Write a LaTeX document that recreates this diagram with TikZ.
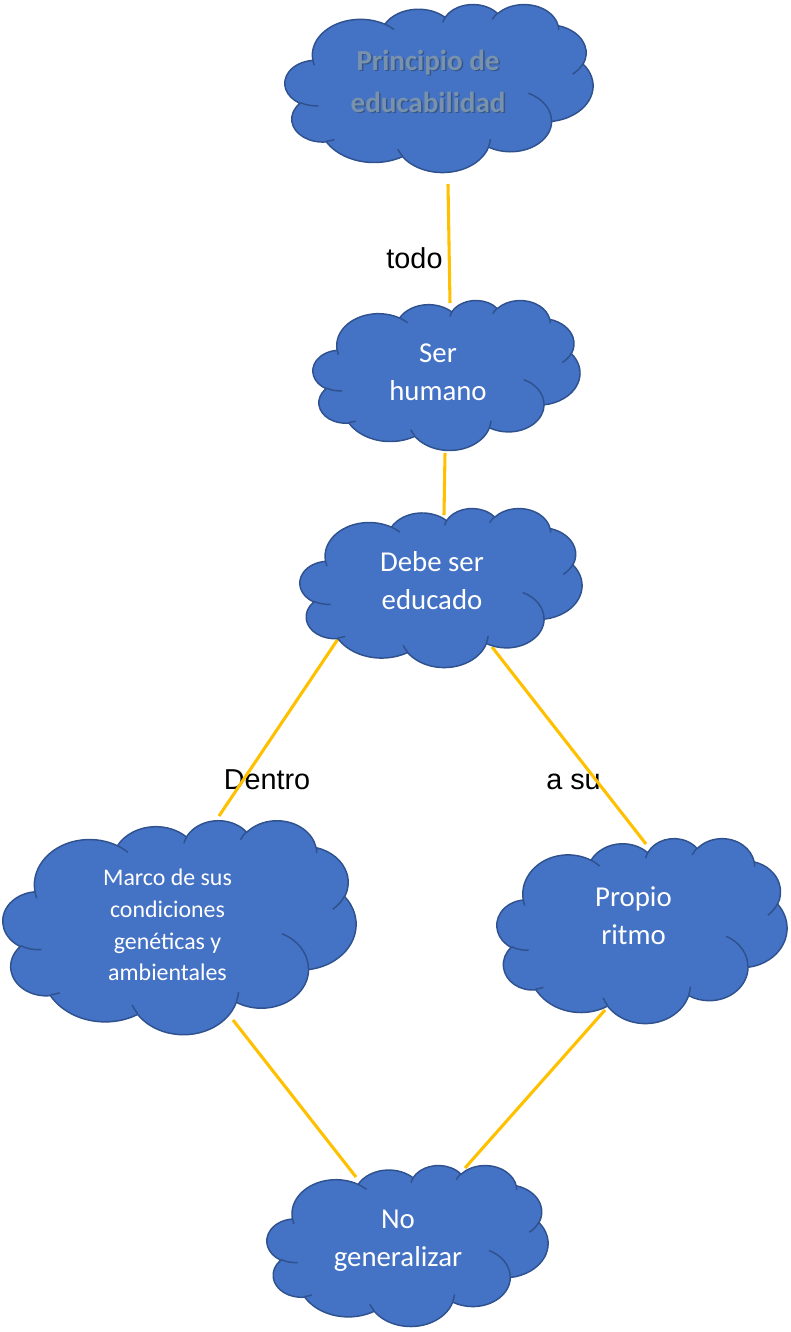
\documentclass[tikz,border=0pt]{standalone}
\usepackage{fontspec}
\setmainfont{Carlito}
\newfontfamily\labelfont{Liberation Sans}

\definecolor{cloudfill}{HTML}{4472C4}
\definecolor{cloudedge}{HTML}{2F528F}
\definecolor{linkgold}{HTML}{FFC000}
\definecolor{titlegrey}{HTML}{7891AD}
\definecolor{titleshade}{HTML}{2C4461}

\tikzset{
  cloudbody/.style={fill=cloudfill, draw=cloudedge, line width=1.1pt, line join=round},
  cloudmark/.style={draw=cloudedge, line width=1.1pt},
  link/.style={draw=linkgold, line width=2.3pt},
  cloudtext/.style={text=white, align=center, font=\fontsize{21.6}{28.5}\selectfont},
  titlewords/.style={text=titlegrey, align=center, font=\bfseries\fontsize{21.8}{31.5}\selectfont},
  linklabel/.style={anchor=base, inner sep=0pt, font=\labelfont\fontsize{21.6}{26}\selectfont}
}

% arc of an office cloud: x radius, y radius, start and sweep (angles to the point)
\newcommand\arcv[4]{arc[start angle={atan2(#1*sin(#3),#2*cos(#3))}, delta angle={mod(atan2(#1*sin(#3+#4),#2*cos(#3+#4))-atan2(#1*sin(#3),#2*cos(#3))+720,360)}, x radius=#1, y radius=#2]}

% cloud in a frame: left, top, width, height (px)
\newcommand\officecloud[4]{%
  \begin{scope}[shift={(#1,#2)}, x={#3*0.75pt/4320}, y={-#4*0.75pt/4320}]
    \draw[cloudbody] (390,1437) \arcv{675.3}{919.0}{-190.48748}{123.78053}
      \arcv{533.3}{726.7}{-144.10238}{89.94523}
      \arcv{436.5}{594.5}{-145.80792}{99.72302}
      \arcv{485.7}{659.5}{-130.98607}{117.24173}
      \arcv{533.3}{727.3}{-78.70888}{109.02692}
      \arcv{677.5}{922.0}{-46.26725}{130.26900}
      \arcv{578.5}{786.7}{0.62502}{114.03333}
      \arcv{675.2}{921.5}{22.45160}{115.17255}
      \arcv{772.0}{1054.3}{66.24263}{75.71102}
      \arcv{436.0}{591.8}{-274.94208}{146.73557}
      \arcv{434.5}{594.5}{-246.82850}{152.51885} -- cycle;
    \draw[cloudmark] (469.3,2617.7) \arcv{434.5}{594.5}{86.74200}{26.42950}
      (692.8,3489.9) \arcv{436.0}{591.8}{73.61047}{11.44747}
      (1647.8,3909.0) \arcv{675.2}{921.5}{137.62415}{14.08110}
      (2882.7,3475.1) \arcv{675.2}{921.5}{6.45327}{15.99835}
      (3412.9,2295.4) \arcv{578.5}{786.7}{-70.29235}{70.91737}
      (4179.8,1535.4) \arcv{533.3}{727.3}{30.31803}{27.75150}
      (3832.4,542.6) \arcv{485.7}{659.5}{-13.74433}{14.85890}
      (2907.8,395.2) \arcv{485.7}{659.5}{-149.18145}{18.19537}
      (2214.1,472.0) \arcv{436.5}{594.5}{-163.49427}{17.68635}
      (1400.0,519.2) \arcv{675.3}{919.0}{-66.70695}{12.31935}
      (412.7,1578.9) \arcv{675.3}{919.0}{157.65435}{11.85817};
  \end{scope}}

\begin{document}
\begin{tikzpicture}[x=0.75pt, y=-0.75pt]
  \useasboundingbox (0,0) rectangle (790,1332);

  % words on the links
  \node[linklabel] (todo) at (414.5,268) {todo};
  \node[linklabel] (dentro) at (267,789) {Dentro};
  \node[linklabel] (asu) at (573.5,789) {a su};

  % link ends
  \coordinate (principio-s) at (448,184);
  \coordinate (ser-n) at (450,303);
  \coordinate (ser-s) at (445,453);
  \coordinate (debe-n) at (444,515);
  \coordinate (debe-sw) at (338,639);
  \coordinate (marco-n) at (219,816);
  \coordinate (debe-se) at (492,647);
  \coordinate (propio-n) at (646,844);
  \coordinate (marco-s) at (233,1020);
  \coordinate (nogen-nw) at (356,1177);
  \coordinate (propio-s) at (605,1010);
  \coordinate (nogen-ne) at (465,1168);

  \draw[link] (principio-s) -- (ser-n);
  \draw[link] (ser-s) -- (debe-n);
  \draw[link] (debe-sw) -- (marco-n);
  \draw[link] (debe-se) -- (propio-n);
  \draw[link] (marco-s) -- (nogen-nw);
  \draw[link] (propio-s) -- (nogen-ne);

  % clouds
  \officecloud{285}{4}{308}{168}
  \officecloud{313}{300}{267}{150}
  \officecloud{300}{508}{282}{159}
  \officecloud{3}{820}{353}{214}
  \officecloud{497}{838}{290}{185}
  \officecloud{267}{1165}{281}{161}

  % texts
  \node[titlewords, text=titleshade, opacity=.6] (principio-shadow) at (429.5,82.5) {Principio de\\educabilidad};
  \node[titlewords] (principio) at (428,81) {Principio de\\educabilidad};
  \node[cloudtext] (ser) at (438,372) {Ser\\humano};
  \node[cloudtext] (debe) at (432,581) {Debe ser\\educado};
  \node[cloudtext, font=\fontsize{17.9}{23.8}\selectfont] (marco) at (167.5,925) {Marco de sus\\condiciones\\genéticas y\\ambientales};
  \node[cloudtext] (propio) at (633.5,916) {Propio\\ritmo};
  \node[cloudtext] (nogen) at (398,1241) {No\\generalizar};
\end{tikzpicture}
\end{document}
